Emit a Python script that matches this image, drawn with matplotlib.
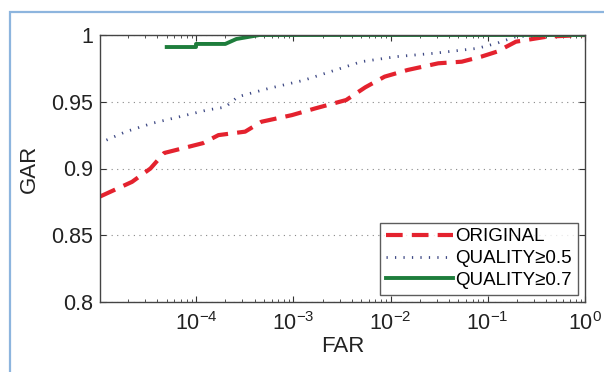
import matplotlib
matplotlib.use("Agg")
import matplotlib.pyplot as plt
from matplotlib.patches import Rectangle
from matplotlib.ticker import LogLocator, FixedLocator, NullFormatter

plt.rcParams['font.family'] = ['Liberation Sans', 'DejaVu Sans']
plt.rcParams['mathtext.fontset'] = 'custom'
plt.rcParams['mathtext.rm'] = 'Liberation Sans'
plt.rcParams['mathtext.it'] = 'Liberation Sans'
plt.rcParams['mathtext.default'] = 'regular'

# Data
orig_far = [1.03e-5, 2.2e-5, 3.4e-5, 4.7e-5, 1.18e-4, 1.7e-4, 3.2e-4, 4.7e-4, 9.7e-4, 1.68e-3,
            3.5e-3, 5.5e-3, 8.7e-3, 0.015, 0.031, 0.054, 0.086, 0.124, 0.195, 0.41, 1.0]
orig_gar = [0.879, 0.890, 0.900, 0.9116, 0.919, 0.925, 0.9276, 0.935, 0.940, 0.945,
            0.9513, 0.9608, 0.9688, 0.9738, 0.9788, 0.980, 0.9838, 0.9875, 0.995, 0.9988, 1.0]

q5_far = [1.2e-5, 1.9e-5, 3.6e-5, 6.8e-5, 1.3e-4, 2.0e-4, 2.7e-4, 5.6e-4, 1.27e-3,
          2.4e-3, 5.0e-3, 0.0115, 0.028, 0.078, 0.124, 0.195, 0.4, 1.0]
q5_gar = [0.9213, 0.9276, 0.934, 0.9388, 0.9438, 0.946, 0.9538, 0.960, 0.966,
          0.9725, 0.980, 0.9838, 0.9863, 0.990, 0.9938, 0.9988, 0.9995, 1.0]

q7_far = [5.0e-5, 1.0e-4, 1.0e-4, 2.0e-4, 2.6e-4, 4.5e-4, 1.0]
q7_gar = [0.991, 0.991, 0.9933, 0.9933, 0.997, 1.0, 1.0]

labels = ['ORIGINAL', 'QUALITY≥0.5', 'QUALITY≥0.7']
yticks = [0.8, 0.85, 0.9, 0.95, 1.0]
ytick_labels = ['0.8', '0.85', '0.9', '0.95', '1']

fig = plt.figure(figsize=(6.04, 3.72), dpi=100)
fig.patch.set_facecolor('white')
fig.patches.append(Rectangle((10/604, -0.05), 1.0, 1 - 12/372 + 0.05,
                             transform=fig.transFigure, fill=False,
                             edgecolor='#8db5de', linewidth=1.6))

ax = fig.add_axes([100/604, 1 - 302/372, 485/604, 267/372])
ax.set_xscale('log')

ax.plot(orig_far, orig_gar, color='#e4222e', linewidth=3, linestyle=(0, (4, 2.2)),
        label=labels[0])
ax.plot(q5_far, q5_gar, color='#3f4a85', linewidth=2.0, linestyle=(0, (0.45, 2.6)),
        label=labels[1])
ax.plot(q7_far, q7_gar, color='#1e7d3c', linewidth=2.8, linestyle='-',
        label=labels[2])

ax.set_xlim(1.03e-5, 1.0)
ax.set_ylim(0.8, 1.0)
ax.xaxis.set_major_locator(FixedLocator([1e-4, 1e-3, 1e-2, 1e-1, 1e0]))
ax.xaxis.set_minor_locator(LogLocator(base=10, subs=range(2, 10), numticks=20))
ax.xaxis.set_minor_formatter(NullFormatter())
ax.set_xticklabels([r'$10^{-4}$', r'$10^{-3}$', r'$10^{-2}$', r'$10^{-1}$', r'$10^{0}$'])
ax.set_yticks(yticks)
ax.set_yticklabels(ytick_labels)

ax.tick_params(axis='both', which='both', direction='in', top=True, right=True,
               colors='#333333', labelcolor='#222222', labelsize=15.5)
ax.tick_params(axis='x', which='major', pad=7)
ax.tick_params(axis='y', which='major', pad=5)
ax.tick_params(which='major', length=4)
ax.tick_params(which='minor', length=2.5)
for s in ax.spines.values():
    s.set_color('#444444')
    s.set_linewidth(1.0)

ax.yaxis.grid(True, linestyle=(0, (1, 4)), color='#888888', linewidth=0.8)
ax.set_axisbelow(True)

ax.set_xlabel('FAR', fontsize=16, color='#222222', labelpad=1)
ax.set_ylabel('GAR', fontsize=16, color='#222222', labelpad=8)

leg = ax.legend(loc='lower right', fontsize=13.5, frameon=True, fancybox=False,
                handlelength=3.6, handletextpad=0.1, borderpad=0.3,
                labelspacing=0.25, borderaxespad=0.4)
leg.get_frame().set_edgecolor('#333333')
leg.get_frame().set_linewidth(1.0)

fig.savefig('out.png', dpi=100)
